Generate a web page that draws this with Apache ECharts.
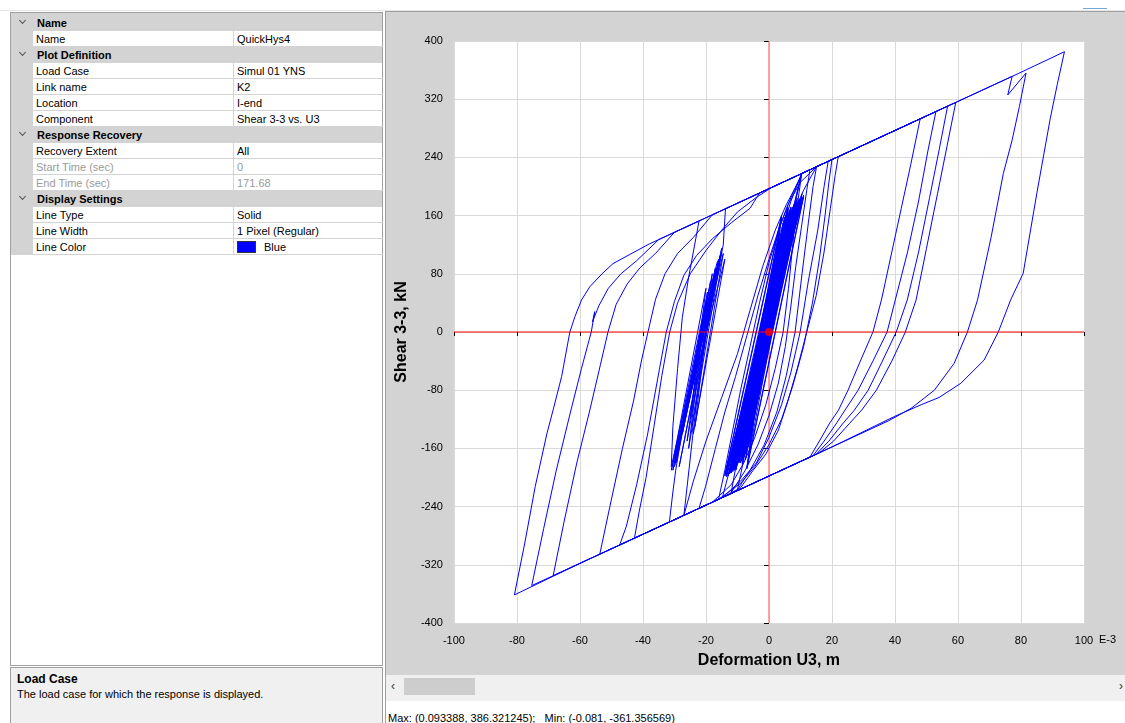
<!DOCTYPE html>
<html><head><meta charset="utf-8">
<script src="https://cdn.jsdelivr.net/npm/echarts@6/dist/echarts.min.js"></script>
<style>
body{margin:0;width:1125px;height:723px;overflow:hidden;background:#fff;font-family:"Liberation Sans",Arial,sans-serif;font-size:11px;color:#000;position:relative}
.a{position:absolute}
#pg{left:10px;top:12px;width:371px;height:652px;border:1px solid #a0a0a0;background:#fff}
.row{position:absolute;left:0;width:371px;height:16px;line-height:16px;white-space:nowrap}
.cat{background:#d3d3d3;font-weight:bold}
.cat .t{position:absolute;left:26px;top:0}
.chev{position:absolute;left:9px;top:3px;width:4px;height:4px;border-right:1px solid #555;border-bottom:1px solid #555;transform:rotate(45deg)}
.gut{position:absolute;left:0;top:0;width:22px;height:16px;background:#d3d3d3}
.nm{position:absolute;left:22px;top:0;width:199px;height:15px;padding-left:3px;border-bottom:1px solid #d3d3d3}
.vl{position:absolute;left:222px;top:0;width:146px;height:15px;padding-left:3px;border-bottom:1px solid #d3d3d3;border-left:1px solid #d3d3d3}
.dis{color:#9a9a9a}
#desc{left:10px;top:667px;width:371px;height:60px;border:1px solid #a0a0a0;background:#f0f0f0}
</style></head>
<body>
<div class="a" style="left:0;top:10px;width:1125px;height:1px;background:#e6e6e6"></div>
<div class="a" id="pg"></div>
<div class="a" id="desc">
  <div class="a" style="left:6px;top:4px;font-weight:bold;font-size:12px">Load Case</div>
  <div class="a" style="left:6px;top:20px;">The load case for which the response is displayed.</div>
</div>
<div class="a" style="left:385px;top:11px;width:740px;height:1px;background:#a0a0a0"></div>
<div class="a" style="left:385px;top:11px;width:1px;height:712px;background:#a0a0a0"></div>
<div class="a" style="left:1083px;top:8px;width:24px;height:1px;background:#7aa7d8"></div>
<div class="a" id="chart" style="left:386px;top:12px;width:739px;height:663px"></div>
<div class="a" style="left:386px;top:675px;width:739px;height:26px;background:#f0f0f0"></div>
<div class="a" style="left:404px;top:678px;width:71px;height:17px;background:#cdcdcd"></div>
<div class="a" style="left:391px;top:679px;font-size:12px;color:#333">&lsaquo;</div>
<div class="a" style="left:1119px;top:679px;font-size:12px;color:#333">&rsaquo;</div>
<div class="a" style="left:388px;top:712px;white-space:pre">Max: (0.093388, 386.321245);   Min: (-0.081, -361.356569)</div>
<script>
// Property grid content
const propRows = [
  ['c','Name'],['i','Name','QuickHys4'],
  ['c','Plot Definition'],['i','Load Case','Simul 01 YNS'],['i','Link name','K2'],['i','Location','I-end'],['i','Component','Shear 3-3 vs. U3'],
  ['c','Response Recovery'],['i','Recovery Extent','All'],['d','Start Time (sec)','0'],['d','End Time (sec)','171.68'],
  ['c','Display Settings'],['i','Line Type','Solid'],['i','Line Width','1 Pixel (Regular)'],['s','Line Color','Blue']
];
const pg = document.getElementById('pg');
const topPad = document.createElement('div');
topPad.className='row cat'; topPad.style.top='0px'; topPad.style.height='2px'; pg.appendChild(topPad);
propRows.forEach((r,i)=>{
  const d=document.createElement('div'); d.className='row'; d.style.top=(2+16*i)+'px';
  if(r[0]==='c'){ d.classList.add('cat'); d.innerHTML='<div class="chev"></div><div class="t"></div>'; d.querySelector('.t').textContent=r[1]; }
  else {
    d.innerHTML='<div class="gut"></div><div class="nm"></div><div class="vl"></div>';
    d.querySelector('.nm').textContent=r[1];
    const v=d.querySelector('.vl');
    if(r[0]==='s'){ v.innerHTML='<span style="display:inline-block;width:17px;height:10px;background:#0000ff;border:1px solid #333;vertical-align:-2px;margin-right:8px"></span>'; v.appendChild(document.createTextNode(r[2])); }
    else v.textContent=r[2];
    if(r[0]==='d'){ d.querySelector('.nm').classList.add('dis'); v.classList.add('dis'); }
  }
  pg.appendChild(d);
});

// Hysteresis data: [deformation U3 (E-3 m), shear 3-3 (kN)]
const coreStart = [
[0,0],[-2,-45],[2,40],[-4,-85],[3.5,70],[-6.5,-125],[5,110],[-9,-160],[7,150],[-11,-185],[8,170],[-14,-196],[4,160],[-7,-188],[11,186],[-12.5,-192],[6,172],[-8.5,-182],[9.5,182],[-13.5,-197],[5,158],[-7.5,-176],[10.5,190],[-12,-194],[3.5,140],[-6,-160],[9,184],[-10.5,-190],[10.4,218]
];
const midExtra = [
[10.4,218],[13,223],[12,195],[10.5,150],[8.5,90],[6.8,30],[5.2,-20],[3,-70],[0,-115],[-3.5,-155],[-7.5,-190],[-12,-221],
[-10.5,-185],[-8.5,-135],[-6,-75],[-3.5,-20],[-1,40],[1.5,95],[4.5,145],[7,180],[10.4,217.8],[20,237],
[19,205],[17.8,160],[16,100],[13.8,40],[11,-20],[7.5,-75],[4,-120],[0,-155],[-4.5,-185],[-9,-208],[-16,-230],
[-14,-190],[-11.5,-135],[-9,-80],[-6,-20],[-3,40],[0,95],[3.5,145],[7,185],[10.4,217.8]
];
const midCycles = [
[10.4,218],[16,229],[22,241],
[21,215],[19.5,170],[17.5,110],[15,50],[12,0],[9,-50],[6,-95],[3,-135],[-1,-168],[-5,-190],[-9,-214],[-15,-228],[-22.2,-242.4],
[-20.1,-212],[-17,-160],[-14,-110],[-10.6,-61],[-7,-5],[-3.5,50],[0,100],[3,140],[6,175],[10,206],[15.1,227.2],[18.8,234.6],
[17.5,200],[15.5,140],[12.5,70],[9.9,0],[7,-55],[4,-100],[0,-145],[-4,-180],[-9,-205],[-14.8,-227.6],
[-12.5,-190],[-10,-140],[-7,-80],[-4,-25],[-1,30],[2,85],[5,130],[8,165],[11,195],[15.1,227.2],
[14,200],[12.5,150],[10.5,80],[8.3,0],[5.5,-60],[2.5,-110],[-1.5,-155],[-6,-190],[-10,-217],
[-8,-175],[-5.5,-120],[-3,-60],[0,10],[2.5,70],[5,120],[7.5,165],[10.4,217.8],
[9.5,190],[8,140],[6.2,60],[4.5,0],[2,-50],[-1,-100],[-4.5,-145],[-8,-180],[-12,-210],[-18,-234],[-31.6,-261.2]
];
const leftBand = [
[-31.6,-261.2],[-30.5,-220],[-29.6,-190],[-26.9,-121],[-23.3,-52],[-21.5,0],[-19,50],[-16.5,95],[-15.5,102],
[-27.5,-140],[-17,85],[-30,-185],[-18.5,70],[-29,-165],[-15,110],[-25.5,-160],[-20,40],[-30.5,-190],[-16,100],[-24.5,-130],
[-24,-140],[-14,100],[-31,-190],[-20,60],[-25,-120],[-15,115],[-29.5,-180],[-18,80],[-23.5,-130],[-14.5,108],[-30,-170],[-19.5,55],[-26,-150],[-16,92],[-28.5,-185],
[-14.5,120],[-13.8,169.4]
];
const bigCycles = [
[-13.8,169.4],[0,197],[20,237],[35,267],[48,293],
[45,230],[42,170],[39,110],[35.7,44],[33,0],[29,-40],[25.1,-80],[22,-108],[19.3,-125],[16,-150],[13,-172],
[0,-198],[-20,-238],[-42.7,-283.4],
[-41.1,-244.7],[-39,-200],[-36.5,-130],[-34,-60],[-31.5,0],[-29,40],[-25,80],[-20,112],[-15,140],[-10,165],[-4,185],[1,199],
[20,237],[40,277],[53,303],
[50.5,250],[47.5,180],[44,110],[40.1,44],[37.5,0],[33,-40],[28.3,-80],[24.5,-105],[21.5,-125],[17.5,-150],[14,-170],
[0,-198],[-20,-238],[-40,-278],[-47.4,-292.8],
[-45.3,-267.6],[-42,-210],[-38.5,-140],[-34.8,-52],[-32.6,0],[-30,42],[-27,78],[-23,105],[-18,128],[-12,150],[-6,170],[-3,191],
[20,237],[40,277],[56.7,310.4],
[54,250],[51,185],[47.5,110],[43.9,44],[40.4,0],[36,-40],[31.5,-80],[27,-108],[23.6,-125],[19,-150],[15,-168],
[0,-198],[-20,-238],[-40,-278],[-53.7,-305.4],
[-50.5,-240],[-46.5,-160],[-43,-95],[-40.5,-40],[-38.4,0],[-36,45],[-33,80],[-29,108],[-24,130],[-18,161],
[0,197],[20,237],[40,277],[59.3,315.6],
[56.5,255],[53.5,190],[50,115],[46.7,44],[43.3,0],[39,-40],[34.1,-80],[29.5,-107],[25.6,-125.5],[20.5,-150],[16,-166],
[0,-198],[-20,-238],[-40,-278],[-68.5,-335],
[-65,-260],[-61,-180],[-57,-110],[-53.5,-45],[-51.1,0],[-48.5,38],[-45,66],[-41,88],[-36,108],[-30,137],
[0,197],[20,237],[40,277],[60,317],[77.2,351.4],
[75.8,325.8],[81.6,356],
[79.5,310],[77.2,264],[74.4,218],[70.5,130],[66.2,44],[63,0],[58.8,-43],[52.5,-80],[45.1,-105],[38,-122],
[20,-158],[0,-198],[-20,-238],[-40,-278],[-60,-318],[-75.3,-348.6],
[-71.5,-270],[-67.5,-190],[-63,-110],[-59.5,-50],[-56.4,0],[-55.3,28],[-56,14],[-54,36],[-51,60],[-47,80],[-42,98],[-35,127],
[0,197],[20,237],[40,277],[60,317],[80,357],[93.8,385.3],
[91.5,340],[89.3,293.7],[85,190],[80.7,80.7],[76.7,44],[72.8,0],[68.3,-38.5],[60.9,-70.5],[54,-90],[48.3,-100],[39.9,-116],
[20,-158],[0,-198],[-20,-238],[-40,-278],[-60,-318],[-80.8,-361.4],
[-77.5,-290],[-74.2,-212.6],[-70.5,-140],[-68.5,-107],[-65.8,-61],[-63.2,0],[-61.6,21],[-59.5,44],[-56.9,62],[-53,80],[-49.5,94],[-44,107],[-38,121],[-22.2,152.6]
];
const coreEnd = [
[-22.2,152.6],[-24,110],[-25.5,75],[-27.5,20],[-29,-50],[-30.5,-130],[-31,-185],[-26,-90],[-22,-15],[-18.5,50],[-16,95],[-29.5,-170],[-17,88],[-24.5,-70],[-15.5,105],[-30,-180],[-20,20],[-27,-252],
[-24,-205],[-20,-150],[-15,-90],[-10,-30],[-6,30],[-2,90],[2,140],[5.5,175],[10,212],
[-12,-190],[7,170],[-9.5,-175],[10,182],[-13,-198],[5.5,162],[-7.5,-168],[9,178],[-11,-188],[6.5,168],[-8,-172],[10.5,185],[-12.5,-194],[4.5,150],[-6.5,-150],[8,174],[-10,-182],[9.5,180],[-13.5,-196],[6,165],[-8.5,-176],[7.5,172],[-11.5,-190],[5,155],[-7,-160],[10,183],[-12,-193],[8.5,176],[-9,-178],[6,160],[-10.5,-186],[9,179],[-6,-140],[4,135],[-8,-165],[7,168],[-11,-189],[5.5,158],[-9.5,-180],[8,172],
[-11,-190],[9.9,181],[-14,-198],[4,158],[-7,-186],[11,188],[-12.5,-195],[6,170],[-9,-180],[8,176],[-13.5,-199],[7,172],[-8,-170],[10,184],[-11.5,-192],[3.5,145],[-6.5,-158],[8.5,178],[-10.5,-184],[5,150],[-7,-150],[4,125],[-9,-170],[6.5,155],[-6,-125],[3,95],[-5,-100],[4.5,110],[-4,-75],[2.5,60],[-3,-50],[1.5,35],[-1.5,-20],[0,0]
];
const currentPoint = [[0,0]];
const xRange = [-100, 100, 20];
const yRange = [-400, 400, 80];

const history = [].concat(coreStart, midExtra, midCycles, leftBand, bigCycles, coreEnd);
const zeroVertical = [[0, yRange[0]], [0, yRange[1]]];
const zeroHorizontal = [[xRange[0], 0], [xRange[1], 0]];

const chart = echarts.init(document.getElementById('chart'), null, {renderer:'canvas'});
const axisFont = {color:'#000', fontSize:11, fontFamily:'"Liberation Sans", Arial, sans-serif'};
chart.setOption({
  animation:false,
  backgroundColor:'#d3d3d3',
  grid:{left:63, right:41, top:29, bottom:52, show:true, backgroundColor:'#ffffff', borderWidth:0, containLabel:false},
  xAxis:{type:'value', min:xRange[0], max:xRange[1], interval:xRange[2],
    name:'Deformation U3, m', nameLocation:'middle', nameGap:30,
    nameTextStyle:{color:'#000', fontSize:16, fontWeight:'bold', fontFamily:'"Liberation Sans", Arial, sans-serif'},
    axisLine:{show:false}, axisTick:{show:true, length:4, lineStyle:{color:'#000'}},
    axisLabel:Object.assign({margin:12, showMinLabel:true, showMaxLabel:true}, axisFont),
    splitLine:{show:true, lineStyle:{color:'#d9d9d9', width:1}}},
  yAxis:{type:'value', min:yRange[0], max:yRange[1], interval:yRange[2],
    name:'Shear 3-3, kN', nameLocation:'middle', nameGap:42,
    nameTextStyle:{color:'#000', fontSize:16, fontWeight:'bold', fontFamily:'"Liberation Sans", Arial, sans-serif'},
    axisLine:{show:false}, axisTick:{show:true, length:5, lineStyle:{color:'#000'}},
    axisLabel:Object.assign({margin:11, showMinLabel:true, showMaxLabel:true}, axisFont),
    splitLine:{show:true, lineStyle:{color:'#d9d9d9', width:1}}},
  graphic:[{type:'text', left:713, top:622, style:{text:'E-3', fill:'#000', font:'11px "Liberation Sans", Arial, sans-serif'}}],
  series:[
    {type:'line', data:zeroVertical, z:1, symbol:'none', showSymbol:false, silent:true,
      lineStyle:{color:'#ff5a5a', width:1}},
    {type:'line', data:history, z:2, symbol:'none', showSymbol:false, clip:true, silent:true,
      lineStyle:{color:'#0000ff', width:1}},
    {type:'line', data:zeroHorizontal, z:3, symbol:'none', showSymbol:false, silent:true,
      lineStyle:{color:'#ff0000', width:1}},
    {type:'scatter', data:currentPoint, z:4, symbolSize:8, itemStyle:{color:'#ff0000'}, silent:true}
  ]
});
</script>
</body></html>
